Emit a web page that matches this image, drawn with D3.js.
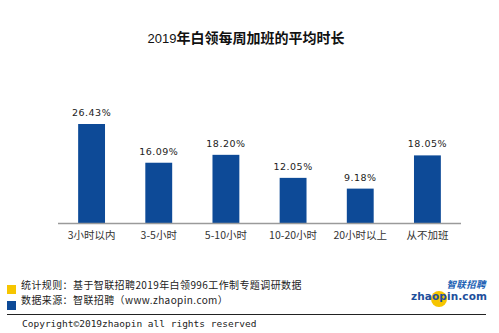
<!DOCTYPE html>
<html>
<head>
<meta charset="utf-8">
<script src="https://cdn.jsdelivr.net/npm/d3@7"></script>
<style>
  html, body { margin: 0; padding: 0; background: #fff; }
  svg { display: block; }
</style>
</head>
<body>
<svg id="chart" width="499" height="333"></svg>
<script>
// Weekly overtime hours of white-collar workers, 2019 (share of respondents, %)
const categories = ["3小时以内", "3-5小时", "5-10小时", "10-20小时", "20小时以上", "从不加班"];
const shares = [26.43, 16.09, 18.20, 12.05, 9.18, 18.05];
const valueLabels = ["26.43%", "16.09%", "18.20%", "12.05%", "9.18%", "18.05%"];

const titleYear = "2019";
const titleText = "年白领每周加班的平均时长";
const noteLines = [
  "统计规则：基于智联招聘2019年白领996工作制专题调研数据",
  "数据来源：智联招聘（www.zhaopin.com）"
];
const copyright = "Copyright©2019zhaopin all rights reserved";

const cjk = "'Noto Sans CJK SC', 'Noto Sans', sans-serif";
const barColor = "#0d4a97";
const noteColors = ["#f6c500", "#0d4a97"];

const svg = d3.select("#chart");

const x = d3.scaleBand().domain(categories).range([58, 461]).paddingInner(0.6).paddingOuter(0.3);
const y = d3.scaleLinear().domain([0, 26.43]).range([223, 124]);

// title: year in regular weight, rest in bold
const t = svg.append("text")
  .attr("x", 246).attr("y", 43)
  .attr("text-anchor", "middle")
  .attr("font-family", cjk).attr("font-size", 14)
  .attr("fill", "#111");
t.append("tspan").attr("font-family", "'Liberation Sans', Arial, sans-serif").attr("font-size", 13).text(titleYear);
t.append("tspan").attr("font-weight", "bold").text(titleText);

// bars
svg.append("g").selectAll("rect")
  .data(shares)
  .join("rect")
  .attr("x", (d, i) => x(categories[i]))
  .attr("y", d => y(d))
  .attr("width", x.bandwidth())
  .attr("height", d => y(0) - y(d))
  .attr("fill", barColor);

// value labels
svg.append("g").selectAll("text")
  .data(shares)
  .join("text")
  .attr("x", (d, i) => x(categories[i]) + x.bandwidth() / 2)
  .attr("y", d => y(d) - 8)
  .attr("text-anchor", "middle")
  .attr("font-family", "'DejaVu Sans', sans-serif").attr("font-size", 9.5)
  .attr("letter-spacing", 0.5)
  .attr("fill", "#222")
  .text((d, i) => valueLabels[i]);

// category axis
const axis = d3.axisBottom(x).tickSize(0).tickPadding(9);
const gx = svg.append("g").attr("transform", `translate(0,${y(0)})`).call(axis);
gx.select(".domain").attr("stroke", "#9a9a9a").attr("stroke-width", 1.3).attr("d", "M58,0.5H461");
gx.selectAll("text")
  .attr("font-family", cjk).attr("font-size", 10.5).attr("fill", "#333");

// footnotes with colour keys
noteLines.forEach((s, i) => {
  svg.append("rect")
    .attr("x", 7).attr("y", [285, 301][i]).attr("width", 9).attr("height", 9)
    .attr("fill", noteColors[i]);
  svg.append("text")
    .attr("x", 21).attr("y", [289, 303.5][i])
    .attr("font-family", cjk).attr("font-size", 10).attr("letter-spacing", 0.4)
    .attr("fill", "#222")
    .text(s);
});

// separator and copyright
svg.append("line")
  .attr("x1", 7).attr("x2", 486).attr("y1", 314.5).attr("y2", 314.5)
  .attr("stroke", "#222").attr("stroke-width", 1);
svg.append("text")
  .attr("x", 22).attr("y", 327)
  .attr("font-family", "'DejaVu Sans Mono', 'Liberation Mono', monospace").attr("font-size", 9.5)
  .attr("fill", "#222")
  .text(copyright);

// brand mark
const logo = svg.append("g");
logo.append("circle").attr("cx", 439).attr("cy", 299).attr("r", 8).attr("fill", "#f6c500");
logo.append("text")
  .attr("x", 486).attr("y", 288).attr("text-anchor", "end")
  .attr("font-family", cjk).attr("font-size", 9.5).attr("font-weight", "bold")
  .attr("font-style", "italic").attr("fill", "#1a5fb4")
  .attr("letter-spacing", 0.4)
  .text("智联招聘");
logo.append("text")
  .attr("x", 487).attr("y", 300).attr("text-anchor", "end")
  .attr("font-family", "'DejaVu Sans', sans-serif").attr("font-size", 10.5).attr("font-weight", "bold")
  .attr("fill", "#1d4f9c").attr("letter-spacing", 0.1)
  .text("zhaopin.com");
</script>
</body>
</html>
